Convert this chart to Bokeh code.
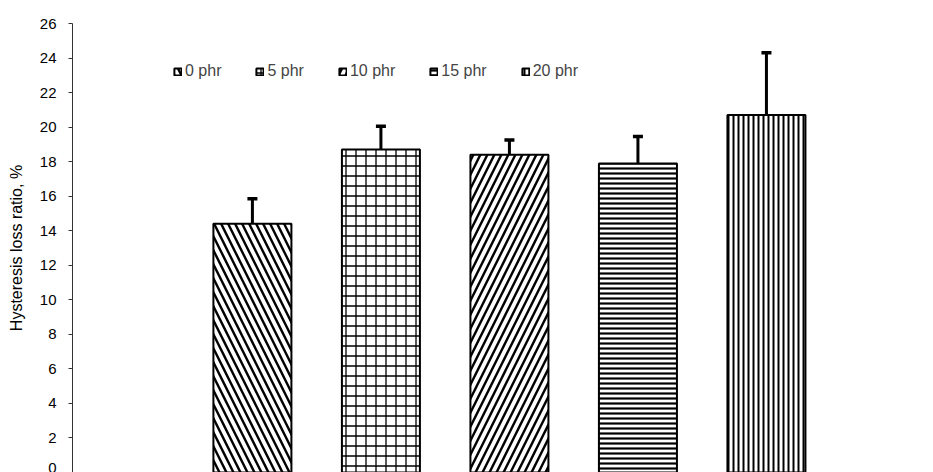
from bokeh.plotting import figure
from bokeh.models import (Range1d, ColumnDataSource, Whisker, TeeHead, Legend,
                          LegendItem, FixedTicker)
from bokeh.embed import file_html
from bokeh.resources import INLINE

# ---- data ----
categories = ["0 phr", "5 phr", "10 phr", "15 phr", "20 phr"]
loss_ratio = [14.4, 18.7, 18.4, 17.9, 20.7]
loss_error = [1.45, 1.35, 0.85, 1.55, 3.6]
y_ticks = [0, 2, 4, 6, 8, 10, 12, 14, 16, 18, 20, 22, 24, 26]
y_label = "Hysteresis loss ratio, %"

# ---- styles ----
hatches = ["\\", "+", "/", "-", "|"]
hatch_scales = [14, 10, 14, 5, 5]
hatch_weights = [2.4, 1.3, 2.4, 2.2, 2]
FONT = "Liberation Sans"

p = figure(width=933, height=472, output_backend="svg", toolbar_location=None,
           x_range=Range1d(-1.40, 5.30), y_range=Range1d(0, 26),
           min_border_left=72, min_border_right=0, min_border_top=23,
           min_border_bottom=0)
p.outline_line_color = None
p.xgrid.visible = False
p.ygrid.visible = False
p.xaxis.visible = False

ax = p.yaxis[0]
ax.ticker = FixedTicker(ticks=y_ticks)
ax.minor_tick_line_color = None
ax.major_tick_out = 4
ax.major_tick_in = 0
ax.major_label_standoff = 12
ax.major_label_text_font = FONT
ax.major_label_text_font_size = "15px"
ax.major_label_text_color = "black"
ax.axis_line_color = "#333333"
ax.major_tick_line_color = "#333333"
ax.axis_label = y_label
ax.axis_label_text_font = FONT
ax.axis_label_text_font_size = "16px"
ax.axis_label_text_font_style = "normal"
ax.axis_label_text_color = "black"
ax.axis_label_standoff = 12

items = []
for i, cat in enumerate(categories):
    src = ColumnDataSource(dict(x=[i], top=[loss_ratio[i]]))
    r = p.vbar(x="x", top="top", bottom=0, width=0.607, source=src,
               fill_color="white", line_color="black", line_width=2,
               hatch_pattern=hatches[i], hatch_color="black",
               hatch_scale=hatch_scales[i], hatch_weight=hatch_weights[i])
    items.append(LegendItem(label=cat, renderers=[r]))

err_src = ColumnDataSource(dict(
    x=list(range(len(categories))),
    upper=[v + e for v, e in zip(loss_ratio, loss_error)],
    lower=[v - e for v, e in zip(loss_ratio, loss_error)],
))
whisker = Whisker(base="x", upper="upper", lower="lower", source=err_src,
                  line_color="black", line_width=3,
                  upper_head=TeeHead(size=10, line_width=3.5, line_color="black"),
                  lower_head=TeeHead(size=10, line_width=3.5, line_color="black"))
p.add_layout(whisker)

legend = Legend(items=items, orientation="horizontal", location=(101, 392),
                padding=0, margin=0, spacing=34, label_standoff=3,
                glyph_width=9, glyph_height=9,
                label_text_font=FONT, label_text_font_size="16px",
                border_line_color=None, background_fill_alpha=0)
p.add_layout(legend)

open("out.html", "w").write(file_html(p, INLINE))
